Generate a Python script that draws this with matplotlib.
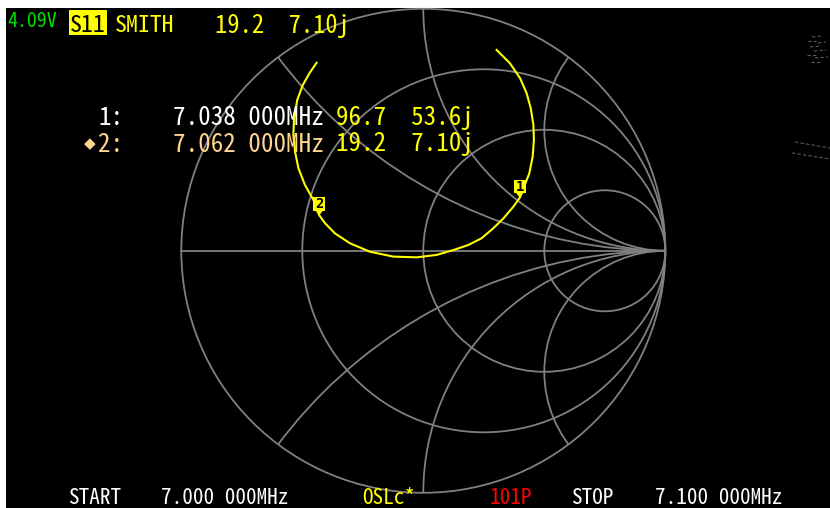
import numpy as np
import matplotlib
matplotlib.use("Agg")
import matplotlib.pyplot as plt
from matplotlib import font_manager as fm
from matplotlib.patches import Circle, Rectangle, Polygon
from matplotlib.lines import Line2D

# ---------------- data ----------------
# S11 trace (reflection coefficient, read from the screen), 7.000 -> 7.100 MHz
trace_gamma_re = [0.303, 0.358, 0.400, 0.427, 0.444, 0.455, 0.457, 0.452, 0.438,
                  0.399, 0.372, 0.331, 0.289, 0.241, 0.186, 0.124, 0.055, -0.027,
                  -0.124, -0.220, -0.303, -0.365, -0.406, -0.430, -0.454, -0.489,
                  -0.516, -0.530, -0.537, -0.534, -0.521, -0.498, -0.471, -0.441]
trace_gamma_im = [0.830, 0.775, 0.713, 0.651, 0.589, 0.520, 0.458, 0.389, 0.320,
                  0.220, 0.182, 0.134, 0.093, 0.052, 0.024, 0.003, -0.017, -0.027,
                  -0.024, -0.004, 0.031, 0.072, 0.114, 0.147, 0.210, 0.272,
                  0.341, 0.410, 0.479, 0.547, 0.623, 0.685, 0.733, 0.777]

marker_ids = ["1", "2"]
marker_freqs = ["7.038 000MHz", "7.062 000MHz"]
marker_R = [96.7, 19.2]
marker_X = [53.6, 7.10]
marker_R_txt = ["96.7", "19.2"]
marker_X_txt = ["53.6j", "7.10j"]
active_marker = 1
Z0 = 50.0

grid_r = [1 / 3, 1.0, 3.0]
grid_x = [0.5, 1.0, 2.0]

battery = "4.09V"
trace_name = "S11"
trace_format = "SMITH"
start_txt = ["START", "7.000 000MHz"]
stop_txt = ["STOP", "7.100 000MHz"]
cal_txt = "OSLc*"
points_txt = "101P"

# ---------------- layout ----------------
W, H = 830, 508
CX, CY, S = 423.3, 250.8, 242.0   # chart centre (px from left/top) and radius
TOP_WHITE = 8
LEFT_WHITE = 6

GRID = "#808080"
YEL = "#ffff00"
ORANGE = "#ffd58f"

# narrow monospace font if available (half-width advance 0.5 em), else DejaVu Sans Mono
try:
    fm.findfont(fm.FontProperties(family="Noto Sans Mono CJK SC"), fallback_to_default=False)
    MONO = ["Noto Sans Mono CJK SC", "DejaVu Sans Mono", "DejaVu Sans"]
    ADV = 0.5
except Exception:
    MONO = ["DejaVu Sans Mono", "DejaVu Sans"]
    ADV = 0.602


def size_for(adv_px):
    return adv_px / ADV * 72 / 100


fig = plt.figure(figsize=(W / 100, H / 100), dpi=100)
fig.patch.set_facecolor("white")
fig.add_artist(Rectangle((LEFT_WHITE / W, 0), 1 - LEFT_WHITE / W, 1 - TOP_WHITE / H,
                         transform=fig.transFigure, fc="black", ec="none", zorder=0))

ax = fig.add_axes([0, 0, 1, 1])
ax.set_facecolor("none")
ax.set_xlim(-CX / S, (W - CX) / S)
ax.set_ylim((CY - H) / S, CY / S)
ax.axis("off")

lw = 1.3
outer = Circle((0, 0), 1.0, fill=False, ec=GRID, lw=lw)
ax.add_patch(outer)
ax.plot([-1, 1], [0, 0], color=GRID, lw=lw)
for r in grid_r:
    ax.add_patch(Circle((r / (1 + r), 0), 1 / (1 + r), fill=False, ec=GRID, lw=lw))
for x in grid_x:
    for sgn in (1, -1):
        c = Circle((1, sgn / x), 1 / x, fill=False, ec=GRID, lw=lw)
        ax.add_patch(c)
        c.set_clip_path(outer)

# trace
ax.plot(trace_gamma_re, trace_gamma_im, color=YEL, lw=1.5, solid_joinstyle="miter", zorder=3)

# markers
u = 1 / S  # one pixel in data units
for mid, R, X in zip(marker_ids, marker_R, marker_X):
    z = complex(R, X)
    g = (z - Z0) / (z + Z0)
    gx, gy = g.real, g.imag
    ax.add_patch(Polygon([(gx - 4 * u, gy + 5 * u), (gx + 4 * u, gy + 5 * u), (gx, gy)],
                         closed=True, fc=YEL, ec="none", zorder=4))
    ax.add_patch(Rectangle((gx - 6 * u, gy + 4.5 * u), 12 * u, 13.5 * u,
                           fc=YEL, ec="none", zorder=4))
    ax.text(gx, gy + 11 * u, mid, color="black", fontsize=10, fontweight="bold",
            family=["DejaVu Sans Mono"], ha="center", va="center", zorder=5)


def ftext(x, y, s, color, adv=12.5, **kw):
    fig.text(x / W, 1 - y / H, s, color=color, fontsize=size_for(adv), family=MONO,
             ha="left", va="baseline", **kw)


# header
ftext(7, 27.3, battery, "#00e000", adv=10.0)
fig.add_artist(Rectangle((69.3 / W, 1 - 35 / H), 38 / W, 25 / H,
                         transform=fig.transFigure, fc=YEL, ec="none", zorder=1))
ftext(70, 32.5, trace_name, "black", adv=12.0)
ftext(115, 32.5, trace_format, YEL, adv=12.0)
ftext(215, 32.5, f"{marker_R_txt[active_marker]}  {marker_X_txt[active_marker]}", YEL, adv=12.3)

# marker table
rows_y = [125, 151.5]
for i, (mid, fr) in enumerate(zip(marker_ids, marker_freqs)):
    col = "white" if i != active_marker else ORANGE
    ftext(98, rows_y[i], f"{mid}:", col)
    ftext(173, rows_y[i], fr, col)
    ftext(336, rows_y[i], f"{marker_R_txt[i]}  {marker_X_txt[i]}", YEL)
    if i == active_marker:
        fig.text(83.5 / W, 1 - 143.5 / H, "\u25c6", color=ORANGE, fontsize=11,
                 family=["DejaVu Sans"], ha="left", va="center")

# footer
fb = 504.0
fa = 10.6
ftext(68, fb, start_txt[0], "white", adv=fa)
ftext(161, fb, start_txt[1], "white", adv=fa)
ftext(362, fb, cal_txt, YEL, adv=fa)
ftext(490, fb, points_txt, "#ff0000", adv=fa)
ftext(571, fb, stop_txt[0], "white", adv=fa)
ftext(655, fb, stop_txt[1], "white", adv=fa)

# faint screen remnants at the right edge
remnants = [(795, 142, 830, 148), (792, 153, 830, 159),
            (812, 37, 822, 36), (808, 41, 816, 41), (818, 43, 826, 42),
            (810, 47, 820, 46), (814, 51, 826, 50), (807, 55, 818, 55),
            (815, 58, 828, 57), (811, 62, 822, 62)]
for (x0, y0, x1, y1) in remnants:
    fig.add_artist(Line2D([x0 / W, x1 / W], [1 - y0 / H, 1 - y1 / H],
                          transform=fig.transFigure, color="#5a5a5a", lw=0.8,
                          ls=(0, (3, 2))))

fig.savefig("out.png", dpi=100, facecolor=fig.get_facecolor())
